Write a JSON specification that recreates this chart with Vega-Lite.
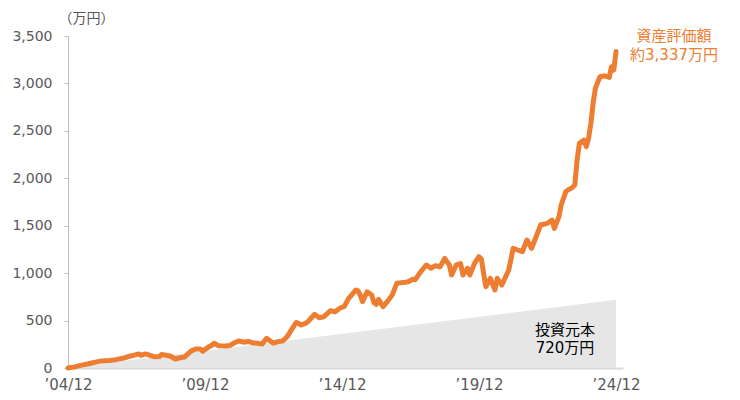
{
  "$schema": "https://vega.github.io/schema/vega-lite/v6.json",
  "width": 555,
  "height": 332,
  "autosize": "none",
  "padding": {"left": 68, "top": 36, "right": 117, "bottom": 32},
  "background": "white",
  "config": {
    "font": "DejaVu Sans, Noto Sans CJK JP",
    "view": {"stroke": null},
    "axis": {"grid": false, "labelFont": "DejaVu Sans, Noto Sans CJK JP", "labelFontSize": 15, "labelColor": "#595959"}
  },
  "datasets": {
    "assets": [
      {"date": "2004-12-01", "value": 0},
      {"date": "2005-03-01", "value": 12},
      {"date": "2005-06-01", "value": 30},
      {"date": "2005-09-01", "value": 45},
      {"date": "2005-12-01", "value": 62},
      {"date": "2006-03-01", "value": 75},
      {"date": "2006-06-01", "value": 80},
      {"date": "2006-09-01", "value": 88},
      {"date": "2006-12-01", "value": 102},
      {"date": "2007-03-01", "value": 124},
      {"date": "2007-05-01", "value": 135},
      {"date": "2007-07-01", "value": 148},
      {"date": "2007-08-01", "value": 134},
      {"date": "2007-10-01", "value": 148},
      {"date": "2007-12-01", "value": 132},
      {"date": "2008-02-01", "value": 118},
      {"date": "2008-04-01", "value": 120},
      {"date": "2008-05-01", "value": 142},
      {"date": "2008-07-01", "value": 135},
      {"date": "2008-09-01", "value": 124},
      {"date": "2008-11-01", "value": 95},
      {"date": "2009-01-01", "value": 108},
      {"date": "2009-03-01", "value": 115},
      {"date": "2009-06-01", "value": 180},
      {"date": "2009-08-01", "value": 200},
      {"date": "2009-10-01", "value": 200},
      {"date": "2009-11-01", "value": 176},
      {"date": "2010-01-01", "value": 214},
      {"date": "2010-03-01", "value": 240},
      {"date": "2010-04-01", "value": 260},
      {"date": "2010-06-01", "value": 235},
      {"date": "2010-09-01", "value": 232},
      {"date": "2010-11-01", "value": 238},
      {"date": "2011-01-01", "value": 268},
      {"date": "2011-03-01", "value": 285},
      {"date": "2011-05-01", "value": 272},
      {"date": "2011-07-01", "value": 280},
      {"date": "2011-09-01", "value": 264},
      {"date": "2011-11-01", "value": 262},
      {"date": "2012-01-01", "value": 252},
      {"date": "2012-03-01", "value": 313},
      {"date": "2012-05-01", "value": 278},
      {"date": "2012-06-01", "value": 262},
      {"date": "2012-08-01", "value": 278},
      {"date": "2012-10-01", "value": 285},
      {"date": "2012-12-01", "value": 330},
      {"date": "2013-02-01", "value": 410},
      {"date": "2013-04-01", "value": 480},
      {"date": "2013-05-01", "value": 470},
      {"date": "2013-06-01", "value": 453},
      {"date": "2013-08-01", "value": 470},
      {"date": "2013-09-01", "value": 488},
      {"date": "2013-12-01", "value": 566},
      {"date": "2014-02-01", "value": 530},
      {"date": "2014-04-01", "value": 540},
      {"date": "2014-07-01", "value": 604},
      {"date": "2014-09-01", "value": 593},
      {"date": "2014-11-01", "value": 630},
      {"date": "2015-01-01", "value": 650},
      {"date": "2015-03-01", "value": 735},
      {"date": "2015-06-01", "value": 822},
      {"date": "2015-07-01", "value": 815},
      {"date": "2015-08-01", "value": 770},
      {"date": "2015-09-01", "value": 700},
      {"date": "2015-11-01", "value": 804},
      {"date": "2016-01-01", "value": 770},
      {"date": "2016-02-01", "value": 690},
      {"date": "2016-03-01", "value": 671},
      {"date": "2016-04-01", "value": 724},
      {"date": "2016-06-01", "value": 646},
      {"date": "2016-08-01", "value": 705},
      {"date": "2016-10-01", "value": 770},
      {"date": "2016-12-01", "value": 893},
      {"date": "2017-02-01", "value": 900},
      {"date": "2017-04-01", "value": 905},
      {"date": "2017-05-01", "value": 910},
      {"date": "2017-07-01", "value": 935},
      {"date": "2017-08-01", "value": 930},
      {"date": "2017-10-01", "value": 998},
      {"date": "2017-12-01", "value": 1060},
      {"date": "2018-01-01", "value": 1086},
      {"date": "2018-03-01", "value": 1051},
      {"date": "2018-05-01", "value": 1078},
      {"date": "2018-07-01", "value": 1068},
      {"date": "2018-09-01", "value": 1156},
      {"date": "2018-11-01", "value": 1086},
      {"date": "2018-12-01", "value": 980},
      {"date": "2019-02-01", "value": 1086},
      {"date": "2019-04-01", "value": 1100},
      {"date": "2019-05-01", "value": 980},
      {"date": "2019-07-01", "value": 1051},
      {"date": "2019-08-01", "value": 980},
      {"date": "2019-10-01", "value": 1100},
      {"date": "2019-12-01", "value": 1173},
      {"date": "2020-01-01", "value": 1150},
      {"date": "2020-03-01", "value": 857},
      {"date": "2020-05-01", "value": 945},
      {"date": "2020-07-01", "value": 822},
      {"date": "2020-08-01", "value": 945},
      {"date": "2020-10-01", "value": 875},
      {"date": "2021-01-01", "value": 1033},
      {"date": "2021-03-01", "value": 1262},
      {"date": "2021-05-01", "value": 1244},
      {"date": "2021-07-01", "value": 1226},
      {"date": "2021-09-01", "value": 1349},
      {"date": "2021-11-01", "value": 1262},
      {"date": "2022-01-01", "value": 1384},
      {"date": "2022-03-01", "value": 1507},
      {"date": "2022-06-01", "value": 1525},
      {"date": "2022-08-01", "value": 1560},
      {"date": "2022-09-01", "value": 1472},
      {"date": "2022-11-01", "value": 1595},
      {"date": "2022-12-01", "value": 1718},
      {"date": "2023-02-01", "value": 1860},
      {"date": "2023-03-01", "value": 1876},
      {"date": "2023-05-01", "value": 1905},
      {"date": "2023-06-01", "value": 1929},
      {"date": "2023-07-01", "value": 2192},
      {"date": "2023-08-01", "value": 2368},
      {"date": "2023-10-01", "value": 2403},
      {"date": "2023-11-01", "value": 2333},
      {"date": "2023-12-01", "value": 2421},
      {"date": "2024-01-01", "value": 2579},
      {"date": "2024-02-01", "value": 2800},
      {"date": "2024-03-01", "value": 2950},
      {"date": "2024-05-01", "value": 3070},
      {"date": "2024-07-01", "value": 3080},
      {"date": "2024-09-01", "value": 3064},
      {"date": "2024-10-01", "value": 3176},
      {"date": "2024-11-01", "value": 3141},
      {"date": "2024-12-01", "value": 3337}
    ],
    "principal": [
      {"date": "2004-12-01", "value": 0},
      {"date": "2024-12-01", "value": 720}
    ],
    "assetLabel": [
      {"date": "2024-12-01", "value": 3337, "label": "資産評価額\n約3,337万円"}
    ],
    "principalLabel": [
      {"date": "2024-12-01", "value": 720, "label": "投資元本\n720万円"}
    ]
  },
  "encoding": {
    "x": {
      "field": "date",
      "type": "temporal",
      "scale": {
        "type": "utc",
        "domain": [
          {"year": 2004, "month": 12, "date": 1, "utc": true},
          {"year": 2025, "month": 3, "date": 4, "utc": true}
        ]
      },
      "axis": {
        "title": null,
        "labelExpr": "'’' + utcFormat(datum.value, '%y/%m')",
        "values": [
          {"year": 2004, "month": 12, "date": 1, "utc": true},
          {"year": 2009, "month": 12, "date": 1, "utc": true},
          {"year": 2014, "month": 12, "date": 1, "utc": true},
          {"year": 2019, "month": 12, "date": 1, "utc": true},
          {"year": 2024, "month": 12, "date": 1, "utc": true}
        ],
        "ticks": false,
        "labelPadding": 9,
        "labelFlush": false,
        "labelOverlap": false,
        "domainColor": "#d9d9d9",
        "domainWidth": 2
      }
    },
    "y": {
      "field": "value",
      "type": "quantitative",
      "scale": {"domain": [0, 3500], "nice": false},
      "axis": {
        "title": "（万円）",
        "titleAngle": 0,
        "titleAlign": "center",
        "titleBaseline": "middle",
        "titleX": 18,
        "titleY": -18,
        "titleFont": "Noto Sans CJK JP",
        "titleFontSize": 14,
        "titleFontWeight": "normal",
        "titleColor": "#595959",
        "values": [0, 500, 1000, 1500, 2000, 2500, 3000, 3500],
        "labelExpr": "format(datum.value, ',d')",
        "labelFontSize": 14,
        "tickSize": 4,
        "tickColor": "#bfbfbf",
        "domainColor": "#bfbfbf",
        "labelPadding": 12
      }
    }
  },
  "layer": [
    {
      "data": {"name": "principal"},
      "mark": {"type": "area", "color": "#e6e6e6"}
    },
    {
      "data": {"name": "assets"},
      "mark": {"type": "line", "color": "#ed7d31", "strokeWidth": 5, "strokeJoin": "round", "strokeCap": "round"}
    },
    {
      "data": {"name": "assetLabel"},
      "mark": {"type": "text", "color": "#ed7d31", "fontSize": 15, "align": "center", "baseline": "top", "lineBreak": "\n", "lineHeight": 19, "dx": 58, "dy": -22},
      "encoding": {"text": {"field": "label"}}
    },
    {
      "data": {"name": "principalLabel"},
      "mark": {"type": "text", "color": "#000000", "fontSize": 15, "align": "center", "baseline": "top", "lineBreak": "\n", "lineHeight": 18, "dx": -51, "dy": 23},
      "encoding": {"text": {"field": "label"}}
    }
  ]
}
